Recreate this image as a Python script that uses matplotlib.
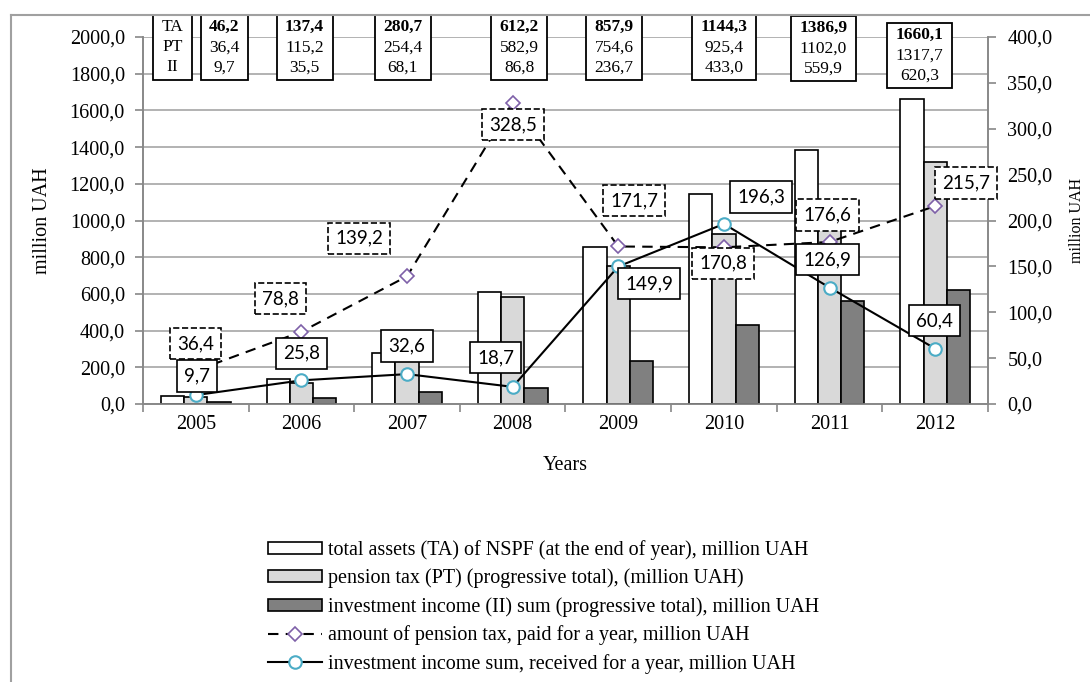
import matplotlib
matplotlib.use("Agg")
import matplotlib.pyplot as plt
import matplotlib.transforms as mtransforms
from matplotlib.lines import Line2D
from matplotlib.ticker import FuncFormatter, MultipleLocator, FixedLocator
from matplotlib.offsetbox import TextArea, VPacker, HPacker, DrawingArea, AnnotationBbox

# data (million UAH)
years = ["2005", "2006", "2007", "2008", "2009", "2010", "2011", "2012"]
total_assets = [46.2, 137.4, 280.7, 612.2, 857.9, 1144.3, 1386.9, 1660.1]
pension_tax_total = [36.4, 115.2, 254.4, 582.9, 754.6, 925.4, 1102.0, 1317.7]
invest_income_total = [9.7, 35.5, 68.1, 86.8, 236.7, 433.0, 559.9, 620.3]
pension_tax_year = [36.4, 78.8, 139.2, 328.5, 171.7, 170.8, 176.6, 215.7]
invest_income_year = [9.7, 25.8, 32.6, 18.7, 149.9, 196.3, 126.9, 60.4]

# label placement (pixels from the marker)
pt_off = [(0, 27), (-21, 33), (-48, 38), (0, -22), (16, 46), (-1, -16), (-2, 27), (31, 23)]
ii_off = [(1, 19), (0, 27), (0, 28), (-17, 29), (31, -17), (37, 27), (-2, 28), (-1, 28)]
tbl_dx = [0.27, 0.03, -0.04, 0.06, -0.04, 0.0, -0.06, -0.15]
tbl_up = [22, 22, 22, 22, 22, 22, 21, 14]

SERIF = "Liberation Serif"
SANS = "Lato"
FS = 14.5


def comma(v, pos=None):
    return f"{v:.1f}".replace(".", ",")


fig = plt.figure(figsize=(10.9, 6.82), dpi=100)
ax = fig.add_axes([0.1312, 0.4076, 0.7752, 0.5381])
ax2 = ax.twinx()

x = list(range(len(years)))
w = 0.22
ax.bar([i - w for i in x], total_assets, w, color="white", edgecolor="black", lw=1.2,
       label="total assets (TA) of NSPF (at the end of year), million UAH", zorder=3)
ax.bar(x, pension_tax_total, w, color="#D9D9D9", edgecolor="black", lw=1.2,
       label="pension tax (PT) (progressive total), (million UAH)", zorder=3)
ax.bar([i + w for i in x], invest_income_total, w, color="#808080", edgecolor="black", lw=1.2,
       label="investment income (II) sum (progressive total), million UAH", zorder=3)

ax2.plot(x, pension_tax_year, ls=(0, (5, 3.5)), color="black", lw=1.5, marker="D",
         ms=7, mfc="white", mec="#7E60A8", mew=1.2,
         label="amount of pension tax, paid for a year, million UAH", zorder=4)
ax2.plot(x, invest_income_year, ls="-", color="black", lw=1.5, marker="o",
         ms=9, mfc="white", mec="#4BACC6", mew=1.5,
         label="investment income sum, received for a year, million UAH", zorder=4)

ax.set_xlim(-0.5, len(years) - 0.5)
ax.set_ylim(0, 2000)
ax2.set_ylim(0, 400)
ax.yaxis.set_major_locator(MultipleLocator(200))
ax2.yaxis.set_major_locator(MultipleLocator(50))
ax.yaxis.set_major_formatter(FuncFormatter(comma))
ax2.yaxis.set_major_formatter(FuncFormatter(comma))
ax.set_xticks(x)
ax.set_xticklabels(years)
ax.xaxis.set_minor_locator(FixedLocator([i - 0.5 for i in range(len(years) + 1)]))
ax.tick_params(axis="x", which="major", length=0, pad=8)
ax.tick_params(axis="x", which="minor", length=6, color="#888888", width=1.2)
ax.tick_params(axis="y", length=6, color="#888888", width=1.2, pad=7)
ax2.tick_params(axis="y", length=6, color="#888888", width=1.2, pad=8)
for t in ax.get_xticklabels() + ax.get_yticklabels() + ax2.get_yticklabels():
    t.set_fontfamily(SERIF)
    t.set_fontsize(FS)

ax.grid(axis="y", color="#A6A6A6", lw=1.2, zorder=0)
ax.set_axisbelow(True)
for a in (ax, ax2):
    a.spines["top"].set_visible(False)
    for s in ("left", "right", "bottom"):
        a.spines[s].set_color("#888888")
        a.spines[s].set_linewidth(1.2)

ax.set_ylabel("million UAH", family=SERIF, fontsize=FS, labelpad=13)
ax2.set_ylabel("million UAH", family=SERIF, fontsize=11.5, labelpad=12)
ax.set_xlabel("Years", family=SERIF, fontsize=FS, labelpad=16)

# data labels
for i, v in enumerate(pension_tax_year):
    ax2.annotate(comma(v), (i, v), xytext=pt_off[i], textcoords="offset pixels",
                 ha="center", va="center", family=SANS, fontsize=13.5, zorder=6,
                 bbox=dict(boxstyle="square,pad=0.38", fc="white", ec="black", lw=1.2, ls="--"))
for i, v in enumerate(invest_income_year):
    ax2.annotate(comma(v), (i, v), xytext=ii_off[i], textcoords="offset pixels",
                 ha="center", va="center", family=SANS, fontsize=13.5, zorder=6,
                 bbox=dict(boxstyle="square,pad=0.38", fc="white", ec="black", lw=1.2))

# small value table at the top
trans = mtransforms.blended_transform_factory(ax2.transData, ax2.transAxes)


def table_box(lines, xpos, up, bold_first):
    kids = []
    for k, s in enumerate(lines):
        weight = "bold" if (bold_first and k == 0) else "normal"
        kids.append(TextArea(s, textprops=dict(family=SERIF, fontsize=12.5, weight=weight)))
    col = VPacker(children=kids, align="center", pad=0, sep=3)
    row = HPacker(children=[DrawingArea(3, 1), col, DrawingArea(3, 1)],
                  align="center", pad=0, sep=0)
    ab = AnnotationBbox(row, (xpos, 1.0), xycoords=trans, xybox=(0, up),
                        boxcoords="offset pixels", box_alignment=(0.5, 1), frameon=True,
                        pad=0.3, bboxprops=dict(ec="black", lw=1.3, fc="white"),
                        annotation_clip=False, zorder=7)
    ax2.add_artist(ab)


table_box(["TA", "PT", "II"], -0.22, 18, False)
for i in x:
    table_box([comma(total_assets[i]), comma(pension_tax_total[i]),
               comma(invest_income_total[i])], i + tbl_dx[i], tbl_up[i] - 4, True)

# legend
h1, l1 = ax.get_legend_handles_labels()
h2, l2 = ax2.get_legend_handles_labels()
fig.legend(h1 + h2, l1 + l2, loc="upper left", bbox_to_anchor=(0.2459, 0.208),
           frameon=False, prop=dict(family=SERIF, size=FS), handlelength=2.7,
           handleheight=0.55, handletextpad=0.3, labelspacing=0.43, borderpad=0,
           borderaxespad=0)

# outer frame
fig.add_artist(Line2D([0.0101, 1.0], [0.978, 0.978], transform=fig.transFigure,
                      color="#A0A0A0", lw=1.5))
fig.add_artist(Line2D([0.0101, 0.0101], [0.0, 0.978], transform=fig.transFigure,
                      color="#A0A0A0", lw=1.5))

fig.savefig("out.png", dpi=100)
